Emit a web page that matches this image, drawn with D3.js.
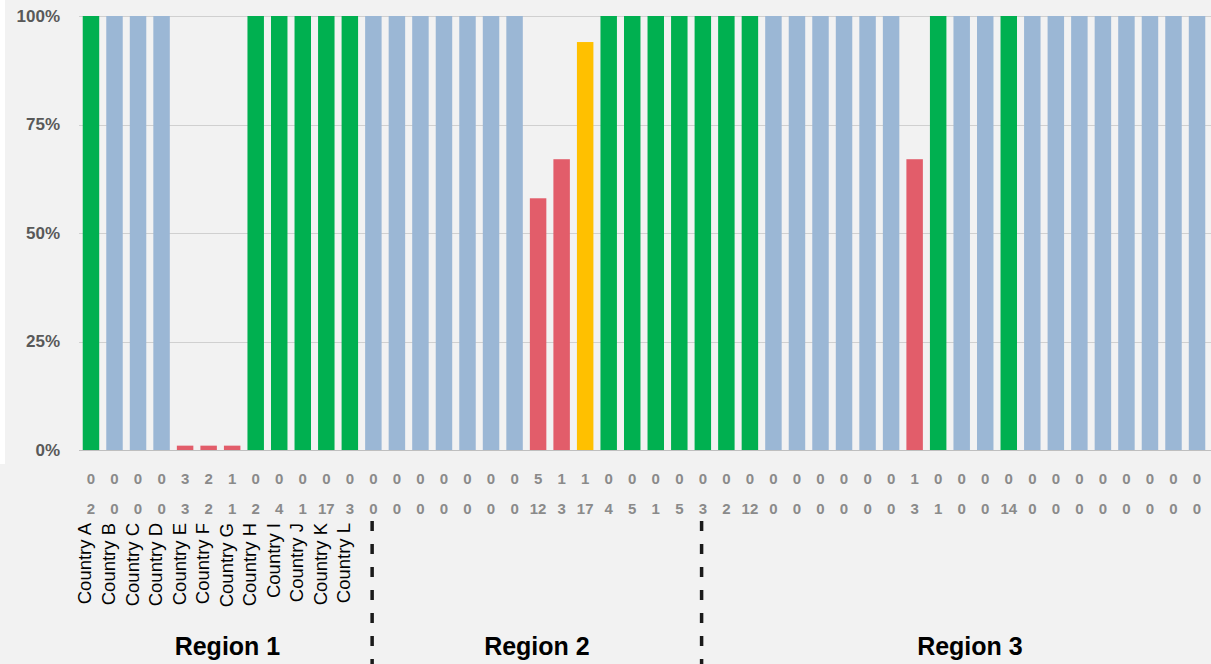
<!DOCTYPE html>
<html>
<head>
<meta charset="utf-8">
<script src="https://cdn.jsdelivr.net/npm/d3@7"></script>
<style>
  html, body { margin: 0; padding: 0; background: #f2f2f2; }
  svg { display: block; }
</style>
</head>
<body>
<svg id="chart" width="1211" height="664"></svg>
<script>
// ---------------- DATA ----------------
const countryLabels = ["Country A","Country B","Country C","Country D","Country E","Country F",
  "Country G","Country H","Country I","Country J","Country K","Country L"];

// first row of counts under the bars
const row1 = [0,0,0,0,3,2,1,0,0,0,0,0,
  0,0,0,0,0,0,0,5,1,1,0,0,0,0,0,0,0,0,
  0,0,0,0,0,1,0,0,0,0,0,0,0,0,0,0,0,0];
// second row of counts under the bars
const row2 = [2,0,0,0,3,2,1,2,4,1,17,3,
  0,0,0,0,0,0,0,12,3,17,4,5,1,5,3,2,12,0,
  0,0,0,0,0,3,1,0,0,14,0,0,0,0,0,0,0,0];
// bar heights (%)
const pct = [100,100,100,100,1,1,1,100,100,100,100,100,
  100,100,100,100,100,100,100,58,67,94,100,100,100,100,100,100,100,100,
  100,100,100,100,100,67,100,100,100,100,100,100,100,100,100,100,100,100];
// bar status: g = green, b = no data (blue), r = red, y = amber
const status = ["g","b","b","b","r","r","r","g","g","g","g","g",
  "b","b","b","b","b","b","b","r","r","y","g","g","g","g","g","g","g","b",
  "b","b","b","b","b","r","g","b","b","g","b","b","b","b","b","b","b","b"];

const yTicks = [0, 25, 50, 75, 100];
const regionNames = ["Region 1", "Region 2", "Region 3"];
const regionStart = [0, 12, 26];

// ---------------- LAYOUT ----------------
const colors = { g: "#00b050", b: "#9bb7d5", r: "#e25d6a", y: "#ffc000" };
const svg = d3.select("#chart");
const W = 1211, H = 664;

svg.append("rect").attr("width", W).attr("height", H).attr("fill", "#f2f2f2");
svg.append("rect").attr("x", 0).attr("y", 0).attr("width", 5).attr("height", 464).attr("fill", "#ffffff");

const idx = d3.range(pct.length);
const x = d3.scaleBand().domain(idx).range([79.2, 1208.8]).paddingInner(0.3).paddingOuter(0.15);
const y = d3.scaleLinear().domain([0, 100]).range([450, 16]);

// grid lines
svg.append("g").selectAll("line").data(yTicks).join("line")
  .attr("x1", 79).attr("x2", W)
  .attr("y1", d => Math.round(y(d)) + 0.5).attr("y2", d => Math.round(y(d)) + 0.5)
  .attr("stroke", d => d === 0 ? "#bfbfbf" : "#d0d0d0").attr("stroke-width", 1);

// y axis labels
const yAxis = d3.axisLeft(y).tickValues(yTicks).tickFormat(d => d + "%").tickSize(0).tickPadding(0);
const ga = svg.append("g").attr("transform", "translate(60,0)").call(yAxis);
ga.select(".domain").remove();
ga.selectAll("text")
  .attr("font-family", "Liberation Sans, Arial, sans-serif")
  .attr("font-size", 17).attr("font-weight", "bold").attr("fill", "#595959");

// bars
svg.append("g").selectAll("rect").data(idx).join("rect")
  .attr("x", i => x(i))
  .attr("width", x.bandwidth())
  .attr("y", i => y(pct[i]))
  .attr("height", i => y(0) - y(pct[i]))
  .attr("fill", i => colors[status[i]]);

// count rows
const cx = i => x(i) + x.bandwidth() / 2;
const rows = [row1, row2];
const rowY = [484, 514];
rows.forEach((r, k) => {
  svg.append("g").selectAll("text").data(idx).join("text")
    .attr("x", i => cx(i)).attr("y", rowY[k])
    .attr("text-anchor", "middle")
    .attr("font-family", "Liberation Sans, Arial, sans-serif")
    .attr("font-size", 15).attr("font-weight", "bold").attr("fill", "#8a8a8a")
    .text(i => r[i]);
});

// country labels
svg.append("g").selectAll("text").data(countryLabels).join("text")
  .attr("transform", (d, i) => `translate(${cx(i) - 6},523) rotate(-90)`)
  .attr("text-anchor", "end").attr("dy", "0.35em")
  .attr("font-family", "Liberation Sans, Arial, sans-serif")
  .attr("font-size", 18.5).attr("fill", "#000")
  .text(d => d);

// region separators
const step = x.step();
const sepX = regionStart.slice(1).map(s => x(s) + 7);
svg.append("g").selectAll("line").data(sepX).join("line")
  .attr("x1", d => d).attr("x2", d => d)
  .attr("y1", 521).attr("y2", H)
  .attr("stroke", "#1a1a1a").attr("stroke-width", 3.5)
  .attr("stroke-dasharray", "10,13");

// region labels
const regionLabelAt = [6.3, 19.45, 37.85];
svg.append("g").selectAll("text").data(regionNames).join("text")
  .attr("x", (d, i) => x.range()[0] + regionLabelAt[i] * step)
  .attr("y", 655)
  .attr("text-anchor", "middle")
  .attr("font-family", "Liberation Sans, Arial, sans-serif")
  .attr("font-size", 25).attr("font-weight", "bold").attr("fill", "#000")
  .text(d => d);
</script>
</body>
</html>
